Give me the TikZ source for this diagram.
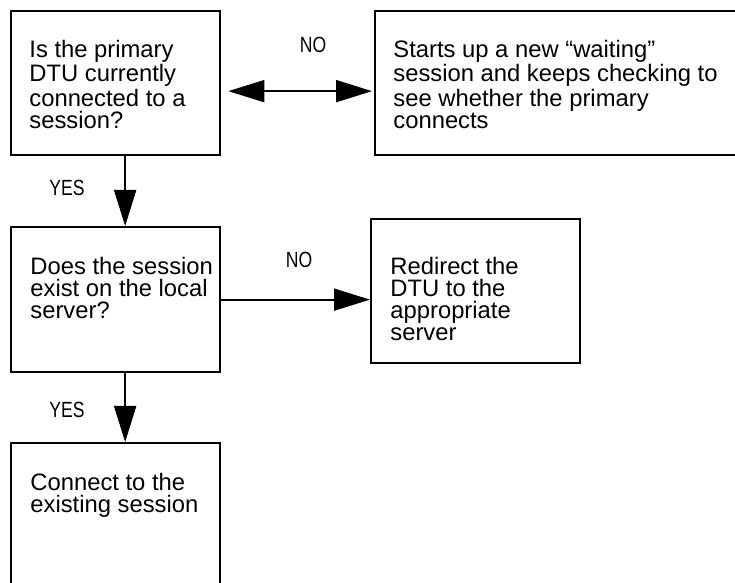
\documentclass[tikz,border=0pt]{standalone}
\usepackage{fontspec}
\setmainfont{Liberation Sans}
\usetikzlibrary{arrows.meta,positioning}
\tikzset{
  >={Triangle[length=18pt,width=11pt]},
  box/.style={draw, line width=1.15pt, inner sep=0pt, anchor=north west, minimum width=104.5pt},
  txt/.style={align=left, inner sep=0pt, font=\fontsize{11.9}{11}\selectfont},
  lbl/.style={inner sep=0pt, font=\fontsize{11}{12}\selectfont},
  flow/.style={line width=0.95pt},
}
\newcommand{\narrowlbl}[1]{\scalebox{0.8}[1]{#1}}
\begin{document}
\begin{tikzpicture}[x=0.5pt,y=-0.5pt]
\path[use as bounding box, clip] (0,0) rectangle (735,583);
% boxes
\node[box, minimum height=72pt] (b1) at (10,10) {};
\node[box, minimum width=185.5pt, minimum height=72pt] (b2) at (374,10) {};
\node[box, minimum height=72.5pt] (b3) at (10,226) {};
\node[box, minimum height=72pt] (b4) at (370,218) {};
\node[box, minimum height=76.5pt] (b5) at (10,442) {};
% texts
\node[txt, below right=15pt and 9.5pt of b1.north west] (t1) {Is the primary\\DTU currently\\connected to a\\session?};
\node[txt, below right=15pt and 9.5pt of b2.north west] (t2) {Starts up a new “waiting”\\session and keeps checking to\\see whether the primary\\connects};
\node[txt, below right=15.5pt and 10pt of b3.north west] (t3) {Does the session\\exist on the local\\server?};
\node[txt, below right=19.5pt and 10pt of b4.north west] (t4) {Redirect the\\DTU to the\\appropriate\\server};
\node[txt, below right=15.5pt and 10pt of b5.north west] (t5) {Connect to the\\existing session};
% connectors
\draw[flow,<->] ([xshift=3.5pt,yshift=-4pt]b1.east) -- ([xshift=-1pt,yshift=-4pt]b2.west);
\draw[flow,->] ([xshift=4.75pt]b1.south) -- ([xshift=4.75pt]b3.north);
\draw[flow,->] (b3.east) -- (b3.east -| b4.west);
\draw[flow,->] ([xshift=4.75pt]b3.south) -- ([xshift=4.75pt]b5.north);
% labels
\node[lbl] (no1) at (313,45) {\narrowlbl{NO}};
\node[lbl] (yes1) at (67,188) {\narrowlbl{YES}};
\node[lbl] (no2) at (299,260) {\narrowlbl{NO}};
\node[lbl] (yes2) at (67,410) {\narrowlbl{YES}};
\end{tikzpicture}
\end{document}
